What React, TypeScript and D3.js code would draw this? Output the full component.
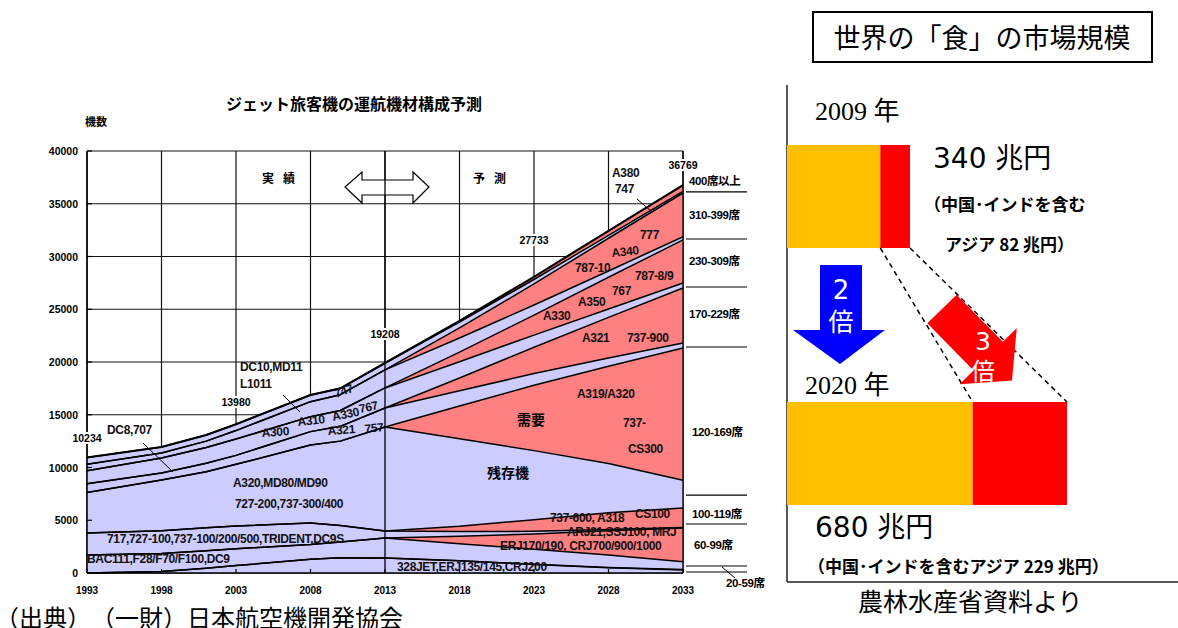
import React from 'react';
import * as d3 from 'd3';

// ---------------- Data (left chart) ----------------
const years = [1993, 1998, 2001, 2003, 2008, 2010, 2013, 2018, 2023, 2028, 2033];
// stacked layers bottom -> top ; "survivor" = existing fleet (lavender), "demand" = new demand (red)
const seat20Survivor = [0, 150, 450, 700, 1300, 1450, 1420, 1150, 800, 500, 280];
const seat20Demand = [0, 0, 0, 0, 0, 0, 0, 10, 20, 30, 40];
const seat60Survivor = [1700, 1700, 1650, 1600, 1400, 1500, 1900, 1620, 1430, 1170, 750];
const seat60Demand = [0, 0, 0, 0, 0, 0, 0, 700, 1450, 2300, 3200];
const seat100Survivor = [2090, 2150, 2200, 2150, 2040, 1550, 660, 450, 250, 120, 50];
const seat100Demand = [0, 0, 0, 0, 0, 0, 0, 500, 1100, 1600, 1850];
const seat120Survivor = [3850, 4820, 5300, 5850, 7390, 8000, 9860, 8290, 6550, 4660, 2630];
const seat120Demand = [0, 0, 0, 0, 0, 0, 0, 3110, 6200, 9220, 12530];
const seat170Survivor = [830, 660, 800, 850, 1270, 1400, 1800, 1450, 1100, 780, 470];
const seat170Demand = [0, 0, 0, 0, 0, 0, 0, 1200, 2500, 3850, 5220];
const seat230Survivor = [1230, 1420, 1500, 1550, 1420, 1500, 1900, 1550, 1150, 800, 470];
const seat230Demand = [0, 0, 0, 0, 0, 0, 0, 900, 1900, 3000, 4080];
const seat310Survivor = [600, 470, 600, 800, 1420, 1500, 1710, 1350, 950, 600, 300];
const seat310Demand = [0, 0, 0, 0, 0, 0, 0, 950, 2000, 3100, 4150];
const seat400Survivor = [650, 570, 580, 600, 630, 600, 650, 550, 420, 280, 150];
const seat400Demand = [0, 0, 0, 0, 0, 0, 0, 100, 250, 420, 600];

const yTicks = [0, 5000, 10000, 15000, 20000, 25000, 30000, 35000, 40000];
const xTicks = [1993, 1998, 2003, 2008, 2013, 2018, 2023, 2028, 2033];
const totalLabelYears = [1993, 2003, 2013, 2023, 2033];
const totalLabelTexts = ['10234', '13980', '19208', '27733', '36769'];
// seat-class boundaries at 2033 (right-hand column)
const seatClassBounds = [36120, 31660, 27110, 21420, 7390, 4645, 664, 95];
const seatClassNames = ['400席以上', '310-399席', '230-309席', '170-229席', '120-169席', '100-119席', '60-99席', '20-59席'];

// ---------------- Data (right panel) ----------------
const foodYears = ['2009 年', '2020 年'];
const foodTotal = [340, 680];
const foodAsia = [82, 229];

const LAV = '#CCCCFF';
const SALMON = '#FF8080';
const FONT = "'Liberation Sans','Noto Sans CJK JP',Arial,sans-serif";
const CJK = "'Noto Sans CJK JP','Liberation Sans',sans-serif";

const layerDefs = [
  ['s20', seat20Survivor], ['d20', seat20Demand],
  ['s60', seat60Survivor], ['d60', seat60Demand],
  ['s100', seat100Survivor], ['d100', seat100Demand],
  ['s120', seat120Survivor], ['d120', seat120Demand],
  ['s170', seat170Survivor], ['d170', seat170Demand],
  ['s230', seat230Survivor], ['d230', seat230Demand],
  ['s310', seat310Survivor], ['d310', seat310Demand],
  ['s400', seat400Survivor], ['d400', seat400Demand],
] as [string, number[]][];

const rows = years.map((yr, i) => {
  const r: any = { year: yr };
  layerDefs.forEach(([k, arr]) => (r[k] = arr[i]));
  return r;
});
const keys = layerDefs.map((d) => d[0]);

// annotation text (pixel layout)
const chartLabels: [string, number, number, number?][] = [
  ['DC8,707', 107, 434],
  ['DC10,MD11', 240, 371],
  ['L1011', 240, 388],
  ['A300', 262, 437, -4],
  ['A310', 298, 426, -6],
  ['A330', 333, 421, -12],
  ['747', 336, 398, -20],
  ['767', 360, 413, -12],
  ['A321', 328, 435, -4],
  ['757', 365, 433, -6],
  ['A320,MD80/MD90', 233, 487],
  ['727-200,737-300/400', 235, 508],
  ['717,727-100,737-100/200/500,TRIDENT,DC9S', 107, 543],
  ['BAC111,F28/F70/F100,DC9', 87, 563],
  ['A319/A320', 577, 398],
  ['737-', 623, 427],
  ['CS300', 628, 453],
  ['737-600, A318', 550, 522],
  ['CS100', 635, 518],
  ['ARJ21,SSJ100, MRJ', 567, 536],
  ['ERJ170/190, CRJ700/900/1000', 500, 550],
  ['328JET,ERJ135/145,CRJ200', 397, 571],
  ['A380', 612, 177],
  ['747', 615, 193],
  ['777', 640, 239],
  ['A340', 612, 257, -6],
  ['787-10', 575, 272],
  ['787-8/9', 635, 280],
  ['767', 612, 295],
  ['A350', 578, 306],
  ['A330', 543, 320],
  ['A321', 582, 342],
  ['737-900', 627, 342],
];

export default function App() {
  const x = d3.scaleLinear().domain([1993, 2033]).range([87, 683]);
  const y = d3.scaleLinear().domain([0, 40000]).range([573, 151]);
  const stacked = d3.stack().keys(keys)(rows as any);
  const area = d3
    .area<any>()
    .x((d) => x(d.data.year))
    .y0((d) => y(d[0]))
    .y1((d) => y(d[1]));
  const topLine = d3
    .line<any>()
    .x((d) => x(d.data.year))
    .y((d) => y(d[1]));
  const top = stacked[stacked.length - 1];

  // right panel scales (schematic, per row)
  const barX0 = 787;
  const rowScales = [
    d3.scaleLinear().domain([0, foodTotal[0]]).range([0, 123]),
    d3.scaleLinear().domain([0, foodTotal[1]]).range([0, 280]),
  ];
  const barY = [145, 402];
  const barH = 103;

  return (
    <svg width={1178} height={628} style={{ position: 'absolute', left: 0, top: 0, background: '#fff' }}>
      <rect x={0} y={0} width={1178} height={628} fill="#fff" />
      {/* ---------- left chart ---------- */}
      <text x={354} y={110} textAnchor="middle" fontFamily={CJK} fontWeight={700} fontSize={16}>
        ジェット旅客機の運航機材構成予測
      </text>
      <text x={85} y={126} fontFamily={CJK} fontWeight={700} fontSize={11}>
        機数
      </text>
      {/* gridlines */}
      {yTicks.map((t) => (
        <line key={'gy' + t} x1={x(1993)} x2={x(2033)} y1={y(t)} y2={y(t)} stroke="#111" strokeWidth={1.2} />
      ))}
      {xTicks.map((t) => (
        <line key={'gx' + t} x1={x(t)} x2={x(t)} y1={y(40000)} y2={y(0)} stroke="#111" strokeWidth={1.2} />
      ))}
      {/* areas */}
      {stacked.map((s) => (
        <path key={'a' + s.key} d={area(s) || ''} fill={s.key.startsWith('s') ? LAV : SALMON} stroke="none" />
      ))}
      {stacked.map((s) => (
        <path
          key={'l' + s.key}
          d={topLine(s) || ''}
          fill="none"
          stroke="#000"
          strokeWidth={s === top ? 2.2 : 1.5}
          strokeLinejoin="round"
        />
      ))}
      {/* double arrow */}
      <path
        d="M345,187 L362,172 L362,180 L413,180 L413,172 L429,187 L413,203 L413,195 L362,195 L362,203 Z"
        fill="#fff"
        stroke="#000"
        strokeWidth={1.2}
      />
      {/* axes on top */}
      <line x1={x(2013)} x2={x(2013)} y1={y(40000)} y2={y(0)} stroke="#000" strokeWidth={1.3} />
      <line x1={x(2033)} x2={x(2033)} y1={y(40000)} y2={y(0)} stroke="#000" strokeWidth={1.3} />
      <line x1={x(1993)} x2={x(1993)} y1={y(40000)} y2={y(0)} stroke="#000" strokeWidth={1.5} />
      <line x1={x(1993)} x2={x(2033)} y1={y(0)} y2={y(0)} stroke="#000" strokeWidth={1.5} />
      {yTicks.map((t) => (
        <line key={'ty' + t} x1={x(1993)} x2={x(1993) + 5} y1={y(t)} y2={y(t)} stroke="#000" strokeWidth={1.2} />
      ))}
      {xTicks.map((t) => (
        <line key={'tx' + t} x1={x(t)} x2={x(t)} y1={y(0)} y2={y(0) - 4} stroke="#000" strokeWidth={1.2} />
      ))}
      {yTicks.map((t) => (
        <text key={'yl' + t} x={78} y={y(t) + 4} textAnchor="end" fontFamily={FONT} fontWeight={700} fontSize={10.5}>
          {t}
        </text>
      ))}
      {xTicks.map((t) => (
        <text key={'xl' + t} x={x(t)} y={594} textAnchor="middle" fontFamily={FONT} fontWeight={700} fontSize={10}>
          {t}
        </text>
      ))}
      {/* period labels */}
      <g fontFamily={CJK} fontWeight={700} fontSize={12}>
        <text x={262} y={183}>実</text>
        <text x={283} y={183}>績</text>
        <text x={473} y={183}>予</text>
        <text x={494} y={183}>測</text>
      </g>
      {/* totals */}
      {totalLabelYears.map((yr, i) => (
        <text
          key={'tot' + yr}
          x={x(yr)}
          y={[442, 406, 338, 244, 169][i]}
          textAnchor="middle"
          fontFamily={FONT}
          fontWeight={700}
          fontSize={10.5}
          stroke="#fff"
          strokeWidth={4}
          paintOrder="stroke"
        >
          {totalLabelTexts[i]}
        </text>
      ))}
      {/* aircraft labels */}
      {chartLabels.map(([t, lx, ly, rot], i) => (
        <text
          key={'cl' + i}
          x={lx}
          y={ly}
          fontFamily={FONT}
          fontWeight={700}
          fontSize={12}
          letterSpacing={-0.35}
          fill="#111"
          transform={rot ? `rotate(${rot},${lx},${ly})` : undefined}
        >
          {t}
        </text>
      ))}
      <text x={517} y={425} fontFamily={CJK} fontWeight={700} fontSize={14}>需要</text>
      <text x={487} y={478} fontFamily={CJK} fontWeight={700} fontSize={14}>残存機</text>
      {/* leader lines */}
      <line x1={143} y1={443} x2={173} y2={472} stroke="#000" strokeWidth={1} />
      <line x1={283} y1={395} x2={300} y2={412} stroke="#000" strokeWidth={1} />
      <line x1={637} y1={199} x2={651} y2={211} stroke="#000" strokeWidth={1} />
      {/* seat class column */}
      {seatClassBounds.map((v, i) => (
        <line key={'sc' + i} x1={686} x2={747} y1={y(v)} y2={y(v)} stroke="#000" strokeWidth={1.2} />
      ))}
      {seatClassNames.map((n, i) => (
        <text
          key={'sn' + i}
          x={[689, 689, 689, 689, 692, 692, 694, 726][i]}
          y={[185, 219, 265, 318, 436, 518, 549, 587][i]}
          fontFamily={FONT}
          fontWeight={700}
          fontSize={11.5}
          letterSpacing={-0.4}
        >
          {n}
        </text>
      ))}
      <line x1={722} y1={567} x2={735} y2={578} stroke="#000" strokeWidth={1} />

      {/* source */}
      <text x={-5} y={627} fontFamily={CJK} fontSize={24}>
        （出典）　（一財）日本航空機開発協会
      </text>

      {/* ---------- right panel ---------- */}
      <rect x={813} y={12} width={339} height={50} fill="#fff" stroke="#000" strokeWidth={2} />
      <text x={982} y={48} textAnchor="middle" fontFamily={CJK} fontSize={27}>
        世界の「食」の市場規模
      </text>
      <line x1={787} y1={85} x2={787} y2={582} stroke="#222" strokeWidth={1.5} />
      <line x1={787} y1={582} x2={1178} y2={582} stroke="#222" strokeWidth={1.5} />
      <text x={815} y={120} fontFamily="'Liberation Serif','Noto Sans CJK JP',serif" fontSize={26}>
        {foodYears[0]}
      </text>
      <text x={805} y={394} fontFamily="'Liberation Serif','Noto Sans CJK JP',serif" fontSize={26}>
        {foodYears[1]}
      </text>
      {foodTotal.map((tot, i) => {
        const s = rowScales[i];
        const other = tot - foodAsia[i];
        return (
          <g key={'bar' + i}>
            <rect x={barX0} y={barY[i]} width={s(other)} height={barH} fill="#FFC000" />
            <rect x={barX0 + s(other)} y={barY[i]} width={s(foodAsia[i])} height={barH} fill="#FF0000" />
          </g>
        );
      })}
      {/* dashed guide lines */}
      <line
        x1={barX0 + rowScales[0](foodTotal[0] - foodAsia[0])}
        y1={barY[0] + barH}
        x2={barX0 + rowScales[1](foodTotal[1] - foodAsia[1])}
        y2={barY[1]}
        stroke="#000"
        strokeWidth={1.5}
        strokeDasharray="5,4"
      />
      <line
        x1={barX0 + rowScales[0](foodTotal[0])}
        y1={barY[0] + barH}
        x2={barX0 + rowScales[1](foodTotal[1])}
        y2={barY[1]}
        stroke="#000"
        strokeWidth={1.5}
        strokeDasharray="5,4"
      />
      <text x={933} y={168} fontFamily="'DejaVu Sans','Noto Sans CJK JP',sans-serif" fontSize={28}>
        {foodTotal[0]} 兆円
      </text>
      <text x={924} y={211} fontFamily={CJK} fontWeight={700} fontSize={17}>
        （中国･インドを含む
      </text>
      <text x={945} y={251} fontFamily={CJK} fontWeight={700} fontSize={17}>
        アジア {foodAsia[0]} 兆円）
      </text>
      <text x={815} y={537} fontFamily="'DejaVu Sans','Noto Sans CJK JP',sans-serif" fontSize={28}>
        {foodTotal[1]} 兆円
      </text>
      <text x={808} y={573} fontFamily={CJK} fontWeight={700} fontSize={17}>
        （中国･インドを含むアジア {foodAsia[1]} 兆円）
      </text>
      {/* blue arrow */}
      <path d="M820,265 L862,265 L862,330 L885,330 L840,364 L793,330 L820,330 Z" fill="#0000FF" />
      <text x={841} y={299} textAnchor="middle" fill="#fff" fontFamily="'DejaVu Sans',sans-serif" fontSize={26}>
        2
      </text>
      <text x={841} y={331} textAnchor="middle" fill="#fff" fontFamily={CJK} fontSize={25}>
        倍
      </text>
      {/* red arrow */}
      <g transform="translate(942,309) rotate(45.6)">
        <path d="M0,-20.5 L66,-20.5 L66,-40 L100,0 L66,40 L66,20.5 L0,20.5 Z" fill="#FF0000" />
      </g>
      <text x={983} y={350} textAnchor="middle" fill="#fff" fontFamily="'DejaVu Sans',sans-serif" fontSize={25}>
        3
      </text>
      <text x={983} y={380} textAnchor="middle" fill="#fff" fontFamily={CJK} fontSize={24}>
        倍
      </text>
      <text x={858} y={611} fontFamily={CJK} fontSize={25}>
        農林水産省資料より
      </text>
    </svg>
  );
}
